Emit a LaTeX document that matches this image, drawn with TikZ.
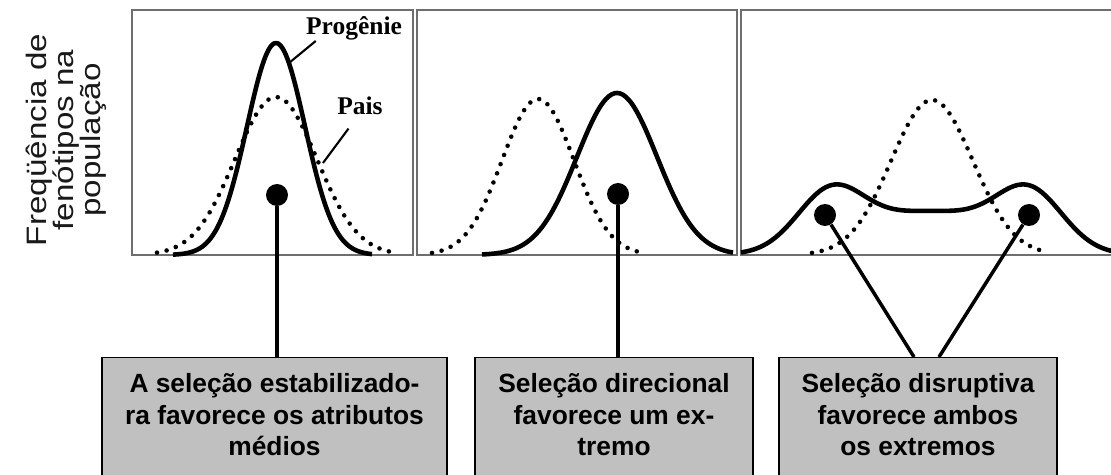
\documentclass[tikz,border=0pt]{standalone}
\usepackage{fontspec}
\setmainfont{Liberation Sans}
\newfontface\boxfont{Liberation Sans Bold}
\newfontface\axisfont[FakeStretch=1.18]{Liberation Sans}
\newfontface\curvefont{Liberation Serif Bold}
\definecolor{boxgray}{HTML}{C0C0C0}
\definecolor{framegray}{HTML}{6E6E6E}
\providecommand\myunit{0.02cm}

\begin{document}
\begin{tikzpicture}[x=\myunit, y=-\myunit]
  \tikzstyle{panel} = [draw=framegray, line width=1.1pt]
  \tikzstyle{progenie} = [line width=2.6pt, line join=round]
  \tikzstyle{pais} = [line width=2.6pt, line cap=round, dash pattern=on 0pt off 5.6pt]
  \tikzstyle{dot} = [circle, fill=black, inner sep=0pt, minimum size=0.44cm]
  \tikzstyle{conn} = [line width=2pt]
  \tikzstyle{leader} = [line width=1.2pt]
  \tikzstyle{lbl} = [inner sep=0pt, anchor=base, font=\curvefont\fontsize{14.5}{16}\selectfont]
  \tikzstyle{sel} = [rectangle, draw=black, line width=0.03cm, fill=boxgray, anchor=north,
                     align=center, minimum height=2.56cm,
                     font=\boxfont\fontsize{15}{18}\selectfont,
                     execute at end node={\rule[-0.29cm]{0pt}{0pt}}]
\useasboundingbox (0,0) rectangle (1111,475);
\node[rotate=90, align=center, text=black!90, font=\axisfont\fontsize{16}{15.5}\selectfont] (ylab) at (66,140)
  {Freqüência de\\fenótipos na\\população};
\draw[panel] (132,10) rectangle (413,255);
\draw[panel] (417,10) rectangle (737,255);
\draw[panel] (741,10) rectangle (1116,255);
\draw[pais] plot[domain=157:398, samples=70, smooth] (\x, {255-158*exp(-0.5*((\x-276)/41)^2)});
\draw[progenie] plot[domain=173:372, samples=90, smooth] (\x, {255-212*exp(-0.5*((\x-276)/29)^2)});
\draw[pais] plot[domain=432:643, samples=70, smooth] (\x, {255-156*exp(-0.5*((\x-538)/36)^2)});
\draw[progenie] plot[domain=482:733, samples=90, smooth] (\x, {255-162*exp(-0.5*((\x-617)/40)^2)});
\draw[pais] plot[domain=812:1042, samples=70, smooth] (\x, {255-155*exp(-0.5*((\x-932)/41)^2)});
\draw[progenie] plot[domain=741:1114, samples=120, smooth]
  (\x, {255-54*exp(-0.5*((\x-830)/33)^2)-54*exp(-0.5*((\x-1030)/33)^2)-43*exp(-0.5*((\x-930)/70)^2)});
\node[lbl] (prog) at (354,35) {Progênie};
\node[lbl] (pais) at (360,115) {Pais};
\coordinate (progpt) at (289,63);
\coordinate (paispt) at (323,163);
\draw[leader] ([xshift=0.2cm]prog.south west) -- (progpt);
\draw[leader] ([xshift=0.23cm, yshift=-0.26cm]pais.south west) -- (paispt);
\node[dot] (d1) at (277,195) {};
\node[dot] (d2) at (618,194) {};
\node[dot] (d3) at (825,215) {};
\node[dot] (d4) at (1029,215) {};
\node[sel, minimum width=6.9cm] (sel1) at (274.5,357) {A seleção estabilizado-\\ra favorece os atributos\\médios};
\node[sel, minimum width=5.56cm] (sel2) at (614,357) {Seleção direcional\\favorece um ex-\\tremo};
\node[sel, minimum width=5.56cm] (sel3) at (918,357) {Seleção disruptiva\\favorece ambos\\os extremos};
\draw[conn] (d1) -- (d1 |- sel1.north);
\draw[conn] (d2) -- (d2 |- sel2.north);
\draw[conn] (d3) -- ([xshift=-0.08cm]sel3.north);
\draw[conn] (d4) -- ([xshift=0.42cm]sel3.north);
\end{tikzpicture}
\end{document}
